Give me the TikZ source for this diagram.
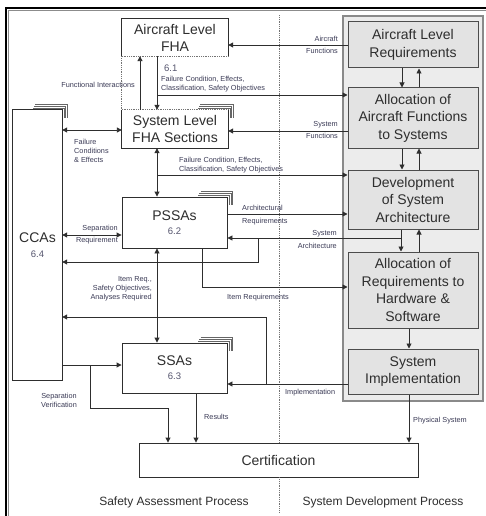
\documentclass[tikz,border=0pt]{standalone}
\usepackage{fontspec}
\setmainfont{Liberation Sans}
\usetikzlibrary{arrows.meta}
\definecolor{ink}{HTML}{2E2E2E}
\definecolor{lblc}{HTML}{3A3A55}
\definecolor{numc}{HTML}{55556E}
\definecolor{boxfill}{HTML}{E3E3E3}
\definecolor{contfill}{HTML}{ECECEC}
\definecolor{contdraw}{HTML}{8A8A8A}
\newcommand{\numtxt}[1]{{\fontsize{9.5}{11}\selectfont\color{numc}#1}}
\begin{document}
\begin{tikzpicture}[x=1pt,y=-1pt,
  wbox/.style={fill=white, inner sep=0pt, align=center, text=ink,
    font=\fontsize{14}{17}\selectfont},
  wboxd/.style={wbox, draw=ink, line width=0.9pt},
  gbox/.style={draw=black!70, line width=1pt, fill=boxfill, inner sep=0pt,
    align=center, text=ink, font=\fontsize{14}{17.5}\selectfont},
  lbl/.style={inner sep=0pt, text=lblc, font=\fontsize{7.3}{9}\selectfont},
  lblw/.style={inner sep=0pt, text=lblc, font=\fontsize{7.3}{12.5}\selectfont},
  conn/.style={draw=ink, line width=0.9pt},
  arr/.style={conn, -{Triangle[length=5pt,width=5pt]}},
  darr/.style={conn, {Triangle[length=5pt,width=5pt]}-{Triangle[length=5pt,width=5pt]}},
  stackline/.style={draw=black!60, line width=0.7pt},
  dotl/.style={draw=black!55, line width=0.8pt, densely dotted},
  numf/.style={font=\fontsize{9.5}{11}\selectfont, text=numc}
]
\useasboundingbox (0,0) rectangle (486,516);
\fill[white] (0,0) rectangle (486,516);

% frame
\draw[black!45, line width=1pt] (8.7,516) -- (8.7,10.7) -- (486,10.7);
\draw[black, line width=2pt] (6,516) -- (6,8) -- (486,8);

% divider
\node[inner sep=0pt, minimum size=0pt] (divtop) at (279,15) {};
\node[inner sep=0pt, minimum size=0pt] (divbot) at (279,512) {};

% container
\node[draw=contdraw, fill=contfill, line width=1.2pt, minimum width=140pt,
  minimum height=385pt, inner sep=0pt] (cont) at (413,208.5) {};

% development boxes
\node[gbox, minimum width=130pt, minimum height=46pt] (alr) at (413,45) {Aircraft Level\\Requirements};
\node[gbox, minimum width=130pt, minimum height=60pt] (aaf) at (413,118) {Allocation of\\Aircraft Functions\\to Systems};
\node[gbox, minimum width=130pt, minimum height=59pt] (dsa) at (413,199.5) {Development\\of System\\Architecture};
\node[gbox, minimum width=130pt, minimum height=76pt] (arhs) at (413,290) {Allocation of\\Requirements to\\Hardware \&\\Software};
\node[gbox, minimum width=130pt, minimum height=45pt] (si) at (413,371.5) {System\\Implementation};

% stack shadows
\newcommand{\stackof}[2]{%
  \foreach \k in {1.7,3.4,5.1}{
    \draw[stackline] ([xshift={-#2pt+0.6*\k pt}, yshift=\k pt]#1.north east) --
      ([xshift=\k pt, yshift=\k pt]#1.north east) --
      ([xshift=\k pt, yshift=-8pt]#1.north east);
  }}
\node[wbox, minimum width=49pt, minimum height=270pt] (cca) at (37.5,245) {CCAs\\[-2pt]\numtxt{6.4}};
\node[wbox, minimum width=106pt, minimum height=38pt] (slfha) at (175,129) {System Level\\FHA Sections};
\node[wboxd, minimum width=105pt, minimum height=51pt] (pssa) at (174.5,222.5) {PSSAs\\[-3pt]\numtxt{6.2}};
\node[wboxd, minimum width=105pt, minimum height=50pt] (ssa) at (174.5,368) {SSAs\\[-3pt]\numtxt{6.3}};
\stackof{cca}{30}
\stackof{slfha}{31}
\stackof{pssa}{30}
\stackof{ssa}{30}
\draw[conn] (cca.south west) rectangle (cca.north east);
\node[wbox, minimum width=106pt, minimum height=37pt] (fha) at (175,37.5) {Aircraft Level\\FHA};

% FHA / SL FHA outlines (dotted parts)
\draw[conn] (fha.south west) -- (fha.north west) -- (fha.north east) -- (fha.south east);
\draw[dotl] (fha.south west) -- (fha.south east);
\draw[dotl] (fha.south west) -- (slfha.north west);
\draw[conn] (slfha.north west) -- (slfha.south west) -- (slfha.south east) -- (slfha.north east);
\draw[dotl] (slfha.north west) -- (slfha.north east);

% certification
\node[wboxd, minimum width=279pt, minimum height=34pt] (cert) at (278.5,460) {Certification};

% divider lines
\draw[dotl] (divtop) -- (cert.north -| divtop);
\draw[dotl] (cert.south -| divtop) -- (divbot);

% Aircraft functions
\draw[arr] (alr.west |- 0,45) -- (fha.east |- 0,45);
\node[lblw, anchor=east, align=right] (laf) at (338,45) {Aircraft\\Functions};

% FHA <-> SL FHA
\draw[arr] (fha.south -| 157,0) -- (slfha.north -| 157,0);
\draw[arr] (slfha.north -| 140,0) -- (fha.south -| 140,0);
\draw[arr] (157,95) -- (aaf.west |- 0,95);
\node[numf, inner sep=0pt, anchor=west] (n61) at (164,68) {6.1};
\node[lbl, anchor=west, align=left] (lfc1) at (161,84.5) {Failure Condition, Effects,\\Classification, Safety Objectives};
\node[lbl, anchor=east] (lfi) at (135,85) {Functional Interactions};

% System functions
\draw[arr] (aaf.west |- 0,131) -- (slfha.east |- 0,131);
\node[lblw, anchor=east, align=right] (lsf) at (338,130) {System\\Functions};

% CCA <-> SL FHA
\draw[darr] (cca.east |- 0,130) -- (slfha.west |- 0,130);
\node[lbl, anchor=north west, align=left] (lfce) at (74,139) {Failure\\Conditions\\\& Effects};

% SL FHA <-> PSSA
\draw[darr] (slfha.south -| 157,0) -- (pssa.north -| 157,0);
\draw[arr] (157,175) -- (dsa.west |- 0,175);
\node[lbl, anchor=west, align=left] (lfc2) at (179,165) {Failure Condition, Effects,\\Classification, Safety Objectives};

% Architectural requirements
\draw[arr] (pssa.east |- 0,214) -- (dsa.west |- 0,214);
\node[lblw, anchor=west, align=left] (lar) at (242,215) {Architectural\\Requirements};

% dev chain arrows
\draw[arr] (alr.south -| 402,0) -- (aaf.north -| 402,0);
\draw[arr] (aaf.north -| 419,0) -- (alr.south -| 419,0);
\draw[arr] (aaf.south -| 402,0) -- (dsa.north -| 402,0);
\draw[arr] (dsa.north -| 419,0) -- (aaf.south -| 419,0);
\draw[arr] (dsa.south -| 401,0) -- (arhs.north -| 401,0);
\draw[arr] (arhs.north -| 419,0) -- (dsa.south -| 419,0);
\draw[arr] (arhs.south -| 409,0) -- (si.north -| 409,0);

% System architecture
\draw[arr] (401,238) -- (pssa.east |- 0,238);
\draw[arr] (258,238) -- (258,262) -- (cca.east |- 0,262);
\node[lblw, anchor=east, align=right] (lsa) at (337,239.5) {System\\Architecture};

% Separation requirement
\draw[darr] (cca.east |- 0,235) -- (pssa.west |- 0,235);
\node[lblw, anchor=east, align=right] (lsr) at (118,234.5) {Separation\\Requirement};

% PSSA <-> SSA
\draw[darr] (pssa.south -| 157,0) -- (ssa.north -| 157,0);
\node[lbl, anchor=east, align=right] (lir) at (152,289) {Item Req.,\\Safety Objectives,\\Analyses Required};

% Item requirements
\draw[arr] (pssa.south -| 202,0) -- (202,287) -- (arhs.west |- 0,287);
\node[lbl, anchor=west] (litr) at (227,298) {Item Requirements};

% Implementation
\draw[arr] (si.west |- 0,384) -- (ssa.east |- 0,384);
\draw[arr] (266,384) -- (266,317) -- (cca.east |- 0,317);
\node[lbl, anchor=west] (limp) at (285,393) {Implementation};

% CCA -> SSA, separation verification
\draw[arr] (cca.east |- 0,365) -- (ssa.west |- 0,365);
\draw[arr] (90,365) -- (90,408) -- (168,408) -- (cert.north -| 168,0);
\node[lbl, align=center] (lsv) at (59,400.5) {Separation\\Verification};

% Results
\draw[arr] (ssa.south -| 196,0) -- (cert.north -| 196,0);
\node[lbl, anchor=west] (lres) at (204,417) {Results};

% Physical system
\draw[arr] (si.south -| 409,0) -- (cert.north -| 409,0);
\node[lbl, anchor=west] (lps) at (413,421) {Physical System};

% bottom labels
\node[inner sep=0pt, text=ink, font=\fontsize{12}{14}\selectfont] (lsap) at (174,502) {Safety Assessment Process};
\node[inner sep=0pt, text=ink, font=\fontsize{12}{14}\selectfont] (lsdp) at (383,502) {System Development Process};
\end{tikzpicture}
\end{document}
